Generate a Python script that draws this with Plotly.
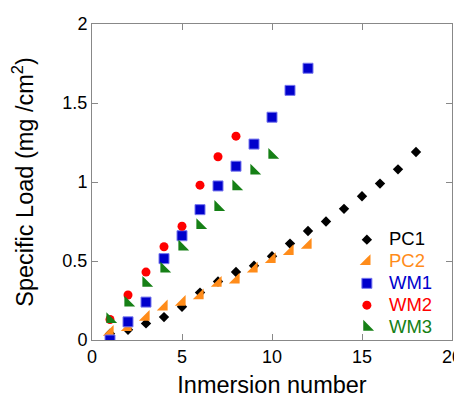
import plotly.graph_objects as go

pc1_x = list(range(1, 19))
pc1_y = [0.04, 0.065, 0.105, 0.145, 0.21, 0.30, 0.37, 0.43, 0.47, 0.53, 0.61, 0.69, 0.75, 0.83, 0.91, 0.99, 1.08, 1.19]
pc2_x = list(range(1, 13))
pc2_y = [0.05, 0.08, 0.145, 0.21, 0.24, 0.28, 0.36, 0.38, 0.45, 0.51, 0.56, 0.60]
wm1_x = list(range(1, 13))
wm1_y = [0.0, 0.115, 0.24, 0.515, 0.66, 0.825, 0.975, 1.10, 1.24, 1.41, 1.58, 1.72]
wm2_x = list(range(1, 9))
wm2_y = [0.13, 0.285, 0.43, 0.59, 0.72, 0.98, 1.16, 1.29]
wm3_x = list(range(1, 11))
wm3_y = [0.13, 0.235, 0.36, 0.45, 0.59, 0.725, 0.84, 0.97, 1.07, 1.17]

series_names = ["PC1", "PC2", "WM1", "WM2", "WM3"]
series = [
    ("PC1", pc1_x, pc1_y, "black", "diamond", 8),
    ("PC2", pc2_x, pc2_y, "#FF8C1A", "triangle-se", 12),
    ("WM1", wm1_x, wm1_y, "#0000CC", "square", 10),
    ("WM2", wm2_x, wm2_y, "#FF0000", "circle", 9),
    ("WM3", wm3_x, wm3_y, "#168016", "triangle-sw", 12),
]

fig = go.Figure()
for name, xs, ys, color, symbol, size in series:
    line = dict(width=1, color="#7777EE") if name == "WM1" else dict(width=0)
    fig.add_trace(go.Scatter(
        x=xs, y=ys, mode="markers", name="",
        marker=dict(color=color, symbol=symbol, size=size, line=line),
        hovertemplate=name + ": %{x}, %{y}<extra></extra>",
    ))

# legend labels (text drawn as annotations so that size and spacing match)
leg_top_y = 0.320
leg_step = 22 / 316
for i, (name, _, _, color, _, _) in enumerate(series):
    fig.add_annotation(
        xref="paper", yref="paper", x=0.819, y=leg_top_y - i * leg_step,
        xanchor="left", yanchor="middle", showarrow=False,
        text=name, font=dict(size=18.5, color=color, family="Liberation Sans, Arial"),
    )

axis_common = dict(
    showline=True, linecolor="#888888", linewidth=1, mirror="ticks",
    ticks="inside", ticklen=6, tickcolor="#888888", showgrid=False, zeroline=False,
    tickfont=dict(family="Liberation Sans, Arial", size=18, color="black"),
)

fig.update_layout(
    width=462, height=393,
    margin=dict(l=84, r=18, t=16, b=61, autoexpand=False),
    paper_bgcolor="white", plot_bgcolor="white",
    font=dict(family="Liberation Sans, Arial", color="black"),
    xaxis=dict(range=[0, 20], tickvals=[0, 5, 10, 15, 20],
               title=dict(text="Inmersion number", font=dict(size=23.5), standoff=10), **axis_common),
    yaxis=dict(range=[0, 2], tickvals=[0, 0.5, 1, 1.5, 2], ticktext=["0", "0.5", "1", "1.5", "2"],
               title=dict(text="Specific Load (mg /cm<sup>2</sup>)", font=dict(size=23.5), standoff=26), **axis_common),
    legend=dict(x=0.708, y=0.368, xanchor="left", yanchor="top", bgcolor="rgba(0,0,0,0)",
                font=dict(size=14.5), itemsizing="trace", tracegroupgap=0, itemclick=False),
)

fig.write_html("out.html")
